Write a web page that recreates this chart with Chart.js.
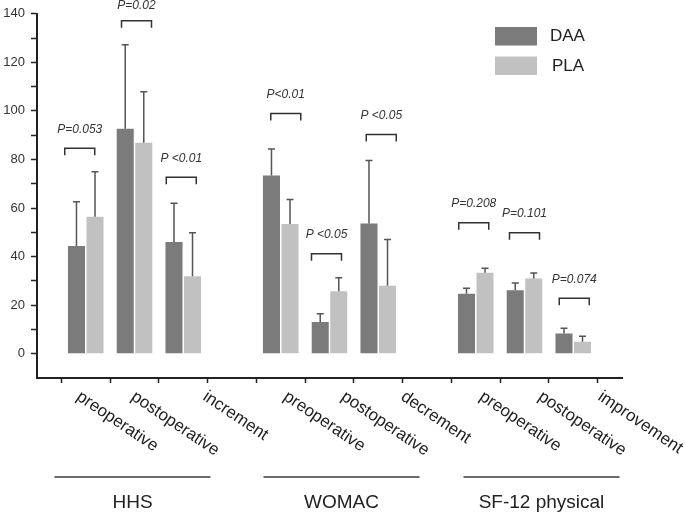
<!DOCTYPE html>
<html>
<head>
<meta charset="utf-8">
<title>DAA vs PLA scores</title>
<script src="https://cdn.jsdelivr.net/npm/chart.js@4.4.1/dist/chart.umd.min.js"></script>
<style>
  html, body { margin: 0; padding: 0; background: #fff; }
  #wrap { width: 685px; height: 515px; }
</style>
</head>
<body>
<div id="wrap"><canvas id="chart" width="685" height="515"></canvas></div>
<script>
const groups = ["HHS", "WOMAC", "SF-12 physical"];
const categories = [
  "preoperative", "postoperative", "increment",
  "preoperative", "postoperative", "decrement",
  "preoperative", "postoperative", "improvement"
];
const seriesNames = ["DAA", "PLA"];
const daaMean = [44.4, 92.7, 46.0, 73.4, 13.1, 53.6, 24.7, 26.1, 8.3];
const daaSd = [18.2, 34.6, 16.0, 10.9, 3.4, 26.0, 2.3, 3.0, 2.2];
const plaMean = [56.4, 86.9, 31.9, 53.4, 25.7, 28.0, 33.3, 31.0, 4.9];
const plaSd = [18.5, 21.0, 17.9, 10.1, 5.6, 19.0, 1.9, 2.2, 2.3];
const pTexts = ["P=0.053", "P=0.02", "P <0.01", "P<0.01", "P <0.05", "P <0.05", "P=0.208", "P=0.101", "P=0.074"];
const pLevels = [84.6, 137.1, 72.7, 98.9, 41.2, 90.3, 53.9, 49.8, 22.8];
const yTickLabels = [0, 20, 40, 60, 80, 100, 120, 140];

const FONT = "'Liberation Sans', Arial, Helvetica, sans-serif";
const colors = ["#7b7b7b", "#c1c1c1"];

// one empty slot before each group and after the last
function padded(list, blank) {
  const out = [];
  for (let g = 0; g < groups.length; g++) {
    out.push(blank);
    out.push(...list.slice(g * 3, g * 3 + 3));
  }
  out.push(blank);
  return out;
}
const slotOf = (i) => i + Math.floor(i / 3) + 1;

const sds = [daaSd, plaSd];

const overlay = {
  id: "overlay",
  afterDatasetsDraw(chart) {
    const { ctx } = chart;
    const y = chart.scales.y;
    ctx.save();
    ctx.strokeStyle = "#555";
    ctx.lineWidth = 1.5;
    chart.data.datasets.forEach((ds, d) => {
      const meta = chart.getDatasetMeta(d);
      categories.forEach((c, i) => {
        const bar = meta.data[slotOf(i)];
        const v = ds.data[slotOf(i)];
        if (!bar || v == null) return;
        const top = y.getPixelForValue(v + sds[d][i]);
        ctx.beginPath();
        ctx.moveTo(bar.x, bar.y);
        ctx.lineTo(bar.x, top);
        ctx.moveTo(bar.x - 3.5, top);
        ctx.lineTo(bar.x + 3.5, top);
        ctx.stroke();
      });
    });
    ctx.restore();
  },
  afterDraw(chart) {
    const { ctx } = chart;
    const x = chart.scales.x;
    const y = chart.scales.y;
    const bracketShift = [-6, 2, -2, 5, -3, 3, -2, 0, 1];
    const labelShift = [-3, 3, 26, 9, 18, 29, 10, 20, 31];
    const groupShift = [-2, 12, 17];
    ctx.save();

    // p-value brackets
    ctx.strokeStyle = "#333";
    ctx.lineWidth = 1.5;
    ctx.fillStyle = "#333";
    ctx.font = "italic 12px " + FONT;
    ctx.textAlign = "center";
    ctx.textBaseline = "middle";
    pTexts.forEach((t, i) => {
      const cx = x.getPixelForValue(slotOf(i)) + bracketShift[i];
      const by = y.getPixelForValue(pLevels[i]);
      ctx.beginPath();
      ctx.moveTo(cx - 15, by + 7);
      ctx.lineTo(cx - 15, by);
      ctx.lineTo(cx + 15, by);
      ctx.lineTo(cx + 15, by + 7);
      ctx.stroke();
      ctx.fillText(t, cx, Math.max(6, by - 19));
    });

    // rotated category labels
    ctx.fillStyle = "#222";
    ctx.font = "17px " + FONT;
    ctx.textAlign = "left";
    ctx.textBaseline = "top";
    categories.forEach((c, i) => {
      const lx = x.getPixelForValue(slotOf(i)) + labelShift[i];
      ctx.save();
      ctx.translate(lx, 388);
      ctx.rotate(34 * Math.PI / 180);
      ctx.fillText(c, 0, 0);
      ctx.restore();
    });

    // group lines and names
    ctx.textAlign = "center";
    ctx.textBaseline = "middle";
    ctx.font = "19px " + FONT;
    groups.forEach((g, k) => {
      const cx = x.getPixelForValue(slotOf(k * 3 + 1)) + groupShift[k];
      ctx.strokeStyle = "#6a6a6a";
      ctx.lineWidth = 2;
      ctx.beginPath();
      ctx.moveTo(cx - 78, 477);
      ctx.lineTo(cx + 78, 477);
      ctx.stroke();
      ctx.fillStyle = "#222";
      ctx.fillText(g, cx, 503);
    });

    // legend
    ctx.textAlign = "left";
    ctx.font = "17px " + FONT;
    chart.data.datasets.forEach((ds, d) => {
      const ly = 27 + d * 29.5;
      ctx.fillStyle = ds.backgroundColor;
      ctx.fillRect(495, ly, 42, 18.5);
      ctx.fillStyle = "#222";
      ctx.fillText(ds.label, 550 + d * 2, ly + 9.5);
    });
    ctx.restore();
  }
};

new Chart(document.getElementById("chart"), {
  type: "bar",
  data: {
    labels: padded(categories, ""),
    datasets: [
      {
        label: seriesNames[0],
        data: padded(daaMean, null),
        backgroundColor: colors[0],
        categoryPercentage: 0.76,
        barPercentage: 0.92
      },
      {
        label: seriesNames[1],
        data: padded(plaMean, null),
        backgroundColor: colors[1],
        categoryPercentage: 0.76,
        barPercentage: 0.92
      }
    ]
  },
  options: {
    responsive: false,
    animation: false,
    layout: { padding: { left: 0, right: 63, top: 12, bottom: 127 } },
    plugins: { legend: { display: false }, tooltip: { enabled: false } },
    scales: {
      x: {
        type: "category",
        offset: false,
        afterFit: (s) => { s.height = 10; },
        ticks: { display: false },
        grid: { offset: true, drawOnChartArea: false, tickLength: 5, tickWidth: 1.5, tickColor: "#222" },
        border: { color: "#222", width: 2 }
      },
      y: {
        min: -10,
        max: 140,
        afterFit: (s) => { s.width = 37; },
        ticks: {
          stepSize: 10,
          autoSkip: false,
          padding: 6,
          color: "#333",
          font: { size: 13, family: FONT },
          callback: (v) => (yTickLabels.includes(v) ? String(v) : "")
        },
        grid: {
          drawOnChartArea: false,
          tickLength: 6,
          tickWidth: 1.5,
          tickColor: (c) => (c.tick && c.tick.value < 0 ? "rgba(0,0,0,0)" : "#222")
        },
        border: { color: "#222", width: 2 }
      }
    }
  },
  plugins: [overlay]
});
</script>
</body>
</html>
